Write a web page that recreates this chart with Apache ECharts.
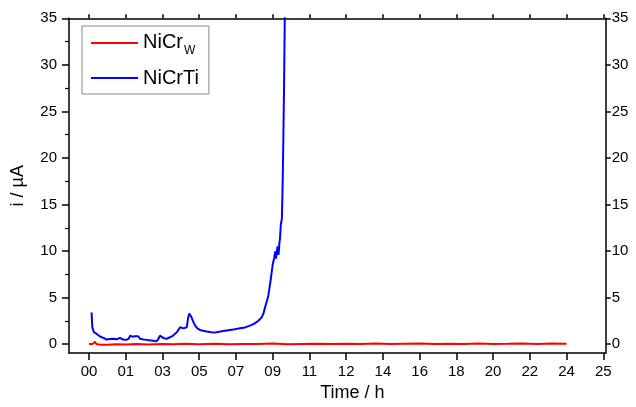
<!DOCTYPE html>
<html>
<head>
<meta charset="utf-8">
<script src="https://cdn.jsdelivr.net/npm/echarts@6/dist/echarts.min.js"></script>
<style>
html,body{margin:0;padding:0;background:#fff;}
#chart{width:636px;height:407px;}
</style>
</head>
<body>
<div id="chart"></div>
<script>
// x positions are expressed in tick slots (0 .. 14), labelled as in the original figure
var xTickLabels = ['00','01','03','05','07','09','11','12','14','16','18','20','22','24','25'];
var yTicks = [0, 5, 10, 15, 20, 25, 30, 35];
var yMinorTicks = [2.5, 7.5, 12.5, 17.5, 22.5, 27.5, 32.5];

var seriesNames = ['NiCrW', 'NiCrTi'];

var blueX = [0.07, 0.08, 0.09, 0.13, 0.17, 0.21, 0.25, 0.30, 0.35, 0.39, 0.44, 0.48, 0.57, 0.66, 0.75, 0.84, 0.93, 1.02, 1.08, 1.12, 1.18, 1.25, 1.34, 1.39, 1.48, 1.57, 1.64, 1.71, 1.78, 1.84, 1.89, 1.93, 2.02, 2.11, 2.20, 2.29, 2.39, 2.44, 2.48, 2.57, 2.66, 2.70, 2.73, 2.76, 2.79, 2.84, 2.89, 2.95, 3.02, 3.10, 3.20, 3.29, 3.38, 3.47, 3.57, 3.70, 3.84, 3.97, 4.11, 4.25, 4.38, 4.50, 4.61, 4.70, 4.75, 4.79, 4.84, 4.88, 4.94, 5.00, 5.04, 5.07, 5.09, 5.11, 5.13, 5.16, 5.18, 5.20, 5.22, 5.25, 5.27, 5.29, 5.31, 5.33];
var blueY = [3.4, 2.6, 1.8, 1.3, 1.15, 1.1, 1.28, 0.82, 0.95, 0.67, 0.6, 0.5, 0.55, 0.57, 0.52, 0.67, 0.5, 0.46, 0.6, 0.92, 0.8, 0.85, 0.85, 0.57, 0.5, 0.46, 0.42, 0.39, 0.35, 0.32, 0.57, 0.92, 0.67, 0.57, 0.74, 0.92, 1.28, 1.2, 1.81, 1.7, 1.81, 2.88, 3.3, 3.1, 2.88, 2.4, 1.99, 1.7, 1.53, 1.45, 1.35, 1.3, 1.24, 1.28, 1.35, 1.45, 1.53, 1.6, 1.7, 1.8, 1.99, 2.2, 2.52, 2.88, 3.3, 3.94, 4.6, 5.18, 6.78, 8.55, 9.26, 9.97, 9.2, 9.08, 10.5, 9.6, 10.8, 11.4, 12.8, 13.5, 17.0, 22.0, 28.0, 35.5];

var redX = [0.00, 0.10, 0.16, 0.20, 0.30, 0.50, 0.75, 1.00, 1.30, 1.60, 2.00, 2.30, 2.60, 3.00, 3.40, 3.80, 4.20, 4.60, 5.00, 5.40, 5.80, 6.20, 6.60, 7.00, 7.40, 7.80, 8.20, 8.60, 9.00, 9.40, 9.80, 10.20, 10.60, 11.00, 11.40, 11.80, 12.20, 12.60, 13.00];
var redY = [0.02, 0.03, 0.25, 0.02, -0.05, -0.06, 0.00, -0.04, 0.02, -0.03, 0.03, -0.02, 0.04, 0.00, 0.05, -0.02, 0.03, 0.01, 0.06, 0.00, 0.03, 0.05, 0.01, 0.04, 0.02, 0.06, 0.01, 0.04, 0.07, 0.02, 0.05, 0.03, 0.06, 0.02, 0.04, 0.07, 0.03, 0.06, 0.05];

function zip(xs, ys) { return xs.map(function (x, i) { return [x, ys[i]]; }); }

var FONT = '"Liberation Sans", Arial, sans-serif';
var lineCol = '#000';
var xMin = -0.545, xMax = 14.065, yMin = -0.96, yMax = 35;
var xTickVals = xTickLabels.map(function (_, i) { return i; });

var chart = echarts.init(document.getElementById('chart'), null, {renderer: 'canvas'});
chart.setOption({
  animation: false,
  backgroundColor: '#fff',
  grid: {left: 69, right: 30.3, top: 18.3, bottom: 51, containLabel: false},
  legend: {
    left: 82, top: 26, orient: 'vertical',
    padding: [6, 10, 6, 9],
    itemGap: 11, itemWidth: 47, itemHeight: 2, icon: 'rect',
    borderColor: '#888', borderWidth: 1, backgroundColor: '#fff',
    data: seriesNames,
    formatter: function (name) {
      if (name === 'NiCrW') return '{n|NiCr}{s|W}';
      return '{t|' + name + '}';
    },
    textStyle: {
      fontFamily: FONT, color: '#000', fontSize: 20,
      rich: {
        n: {fontFamily: FONT, fontSize: 20, lineHeight: 22, verticalAlign: 'top', color: '#000'},
        s: {fontFamily: FONT, fontSize: 12, lineHeight: 12, verticalAlign: 'top', padding: [13, 0, 0, 1], color: '#000'},
        t: {fontFamily: FONT, fontSize: 20, lineHeight: 22, color: '#000'}
      }
    }
  },
  xAxis: [{
    type: 'value', min: xMin, max: xMax, position: 'bottom',
    name: 'Time / h', nameLocation: 'middle', nameGap: 26,
    nameTextStyle: {fontFamily: FONT, fontSize: 18, color: '#000', padding: [0, 0, 0, 30]},
    axisLine: {show: true, onZero: false, lineStyle: {color: lineCol, width: 1.5}},
    axisTick: {show: true, inside: false, length: 7, lineStyle: {color: lineCol, width: 1.5}, customValues: xTickVals},
    axisLabel: {show: true, margin: 11, fontFamily: FONT, fontSize: 15, color: '#000', customValues: xTickVals,
      formatter: function (v) { return xTickLabels[Math.round(v)]; }},
    splitLine: {show: false}
  }, {
    type: 'value', min: xMin, max: xMax, position: 'top',
    axisLine: {show: true, onZero: false, lineStyle: {color: lineCol, width: 1.5}},
    axisTick: {show: true, inside: false, length: 4, lineStyle: {color: lineCol, width: 1.5}, customValues: xTickVals},
    axisLabel: {show: false},
    splitLine: {show: false}
  }],
  yAxis: [{
    type: 'value', min: yMin, max: yMax, position: 'left',
    name: 'i / µA', nameLocation: 'middle', nameGap: 42, nameRotate: 90,
    nameTextStyle: {fontFamily: FONT, fontSize: 18, color: '#000'},
    axisLine: {show: true, onZero: false, lineStyle: {color: lineCol, width: 1.5}},
    axisTick: {show: true, inside: false, length: 7, lineStyle: {color: lineCol, width: 1.5}, customValues: yTicks},
    axisLabel: {show: true, margin: 12, fontFamily: FONT, fontSize: 15, color: '#000', customValues: yTicks},
    splitLine: {show: false}
  }, {
    type: 'value', min: yMin, max: yMax, position: 'left',
    axisLine: {show: false, onZero: false},
    axisTick: {show: true, inside: false, length: 4, lineStyle: {color: lineCol, width: 1.2}, customValues: yMinorTicks},
    axisLabel: {show: false},
    splitLine: {show: false}
  }, {
    type: 'value', min: yMin, max: yMax, position: 'right',
    axisLine: {show: true, onZero: false, lineStyle: {color: lineCol, width: 1.5}},
    axisTick: {show: true, inside: false, length: 5, lineStyle: {color: lineCol, width: 1.5}, customValues: yTicks},
    axisLabel: {show: true, margin: 6, fontFamily: FONT, fontSize: 15, color: '#000', customValues: yTicks},
    splitLine: {show: false}
  }],
  series: [{
    name: 'NiCrTi', type: 'line', xAxisIndex: 0, yAxisIndex: 0,
    data: zip(blueX, blueY), symbol: 'none', clip: true,
    lineStyle: {color: '#0000ff', width: 2}, itemStyle: {color: '#0000ff'}, z: 2
  }, {
    name: 'NiCrW', type: 'line', xAxisIndex: 0, yAxisIndex: 0,
    data: zip(redX, redY), symbol: 'none', clip: true,
    lineStyle: {color: '#ff0000', width: 2}, itemStyle: {color: '#ff0000'}, z: 3
  }]
});
</script>
</body>
</html>
